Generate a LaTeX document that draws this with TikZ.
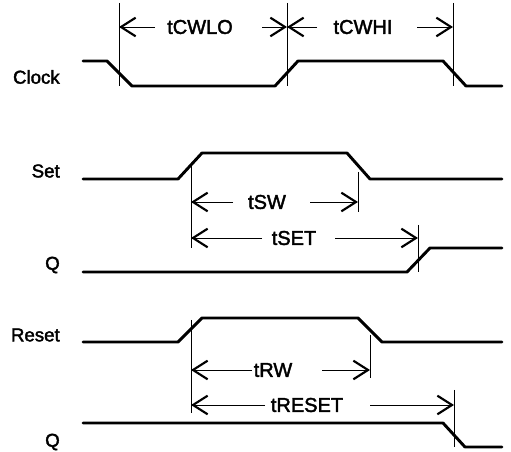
\documentclass[tikz,border=0pt]{standalone}
\usepackage{fontspec}
\setmainfont{Liberation Sans}
\newfontfamily\lblfont[FakeBold=2]{Liberation Sans}
\usetikzlibrary{arrows.meta}
\begin{document}
\begin{tikzpicture}[x=0.75pt,y=-0.75pt,
  sig/.style={line width=2.2pt,line join=round,line cap=round},
  guide/.style={line width=0.6pt},
  dim/.style={line width=0.7pt,-{Straight Barb[length=11pt,width=14pt,line width=1.6pt]}},
  lbl/.style={anchor=east,inner sep=0pt,font=\lblfont\fontsize{14}{16}\selectfont},
  tlbl/.style={inner sep=0pt,font=\lblfont\fontsize{15}{17}\selectfont}]
\useasboundingbox (0,0) rectangle (511,452);
% signal labels
\node[lbl] (lclk) at (60,77) {Clock};
\node[lbl] (lset) at (60,171) {Set};
\node[lbl] (lq1) at (60,265) {Q};
\node[lbl] (lrst) at (60,335) {Reset};
\node[lbl] (lq2) at (60,442) {Q};
% waveforms
\draw[sig] (83,61) -- (107,61) -- (132,86) -- (275,86) -- (298,61) -- (443,61) -- (466,86) -- (502,86);
\draw[sig] (83,179) -- (178,179) -- (202,153) -- (347,153) -- (370,179) -- (502,179);
\draw[sig] (83,272) -- (407,272) -- (430,248) -- (502,248);
\draw[sig] (83,342) -- (178,342) -- (202,318) -- (358,318) -- (382,342) -- (502,342);
\draw[sig] (83,423) -- (443,423) -- (465,447) -- (502,447);
% guide lines
\coordinate (g1t) at (119,3);   \coordinate (g1b) at (119,86);
\coordinate (g2t) at (287,3);   \coordinate (g2b) at (287,86);
\coordinate (g3t) at (453,3);   \coordinate (g3b) at (453,86);
\coordinate (g4t) at (191,165); \coordinate (g4b) at (191,248);
\coordinate (g5t) at (358,172); \coordinate (g5b) at (358,212);
\coordinate (g6t) at (418,225); \coordinate (g6b) at (418,272);
\coordinate (g7t) at (191,320); \coordinate (g7b) at (191,413);
\coordinate (g8t) at (370,335); \coordinate (g8b) at (370,378);
\coordinate (g9t) at (454,390); \coordinate (g9b) at (454,447);
\foreach \g in {1,...,9}{\draw[guide] (g\g t) -- (g\g b);}
% timing labels
\node[tlbl] (tcwlo) at (200,27) {tCWLO};
\node[tlbl] (tcwhi) at (363,27) {tCWHI};
\node[tlbl] (tsw) at (267,202) {tSW};
\node[tlbl] (tset) at (294,238) {tSET};
\node[tlbl] (trw) at (273,370) {tRW};
\node[tlbl] (treset) at (307,405) {tRESET};
% dimension arrows
\draw[dim] (155,27) -- (g1t |- tcwlo);
\draw[dim] (262,27) -- (g2t |- tcwlo);
\draw[dim] (317,27) -- (g2t |- tcwhi);
\draw[dim] (417,27) -- (g3t |- tcwhi);
\draw[dim] (233,202) -- (g4t |- tsw);
\draw[dim] (310,202) -- (g5t |- tsw);
\draw[dim] (262,238) -- (g4t |- tset);
\draw[dim] (335,238) -- (g6t |- tset);
\draw[dim] (252,370) -- (g7t |- trw);
\draw[dim] (322,370) -- (g8t |- trw);
\draw[dim] (265,405) -- (g7t |- treset);
\draw[dim] (370,405) -- (g9t |- treset);
\end{tikzpicture}
\end{document}
